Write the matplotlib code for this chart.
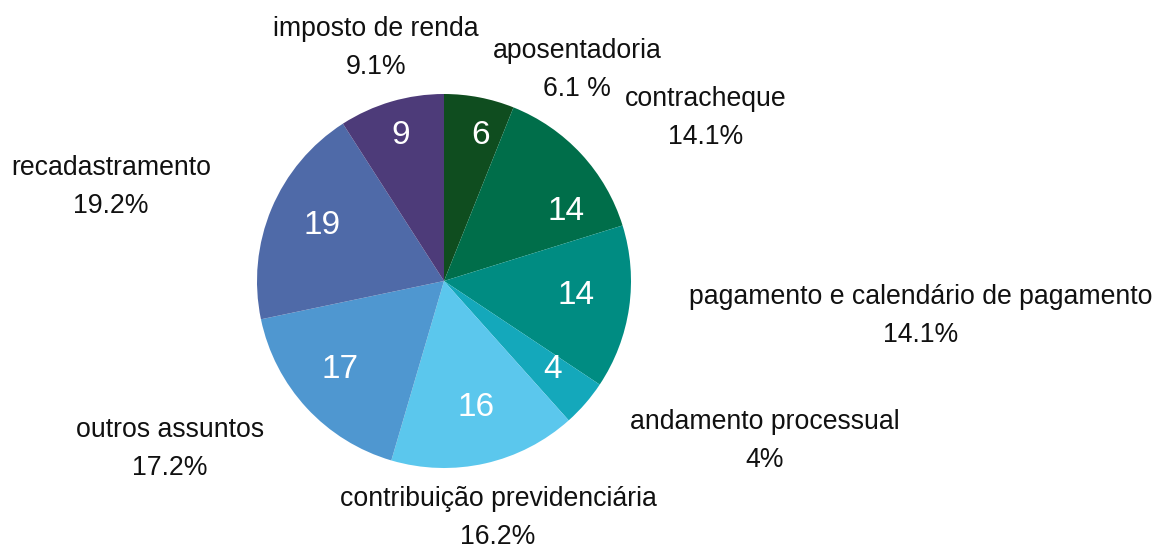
import matplotlib
matplotlib.use("Agg")
import matplotlib.pyplot as plt

# ---- data ----
categories = ["aposentadoria", "contracheque", "pagamento e calendário de pagamento",
              "andamento processual", "contribuição previdenciária", "outros assuntos",
              "recadastramento", "imposto de renda"]
values = [6, 14, 14, 4, 16, 17, 19, 9]
percent_labels = ["6.1 %", "14.1%", "14.1%", "4%", "16.2%", "17.2%", "19.2%", "9.1%"]

# ---- styles / layout ----
colors = ["#0f4d1f", "#006e4a", "#008c82", "#14a8bb", "#5bc7ed", "#4f97d0", "#4f6aa8", "#4d3b79"]
W, H = 1157, 545
center = (444, H - 281)
radius = 187
# label centres in pixel coords (x, y from top)
outer_pos = [(577, 70), (706, 118), (921, 316), (765, 441), (498, 518), (170, 449), (111, 187), (376, 48)]
inner_pos = [(481, 135), (566, 212), (576, 295), (553, 370), (476, 408), (340, 370), (322, 226), (401, 135)]

plt.rcParams['font.family'] = ['Liberation Sans', 'DejaVu Sans']

fig = plt.figure(figsize=(W / 100, H / 100), dpi=100)
ax = fig.add_axes([0, 0, 1, 1])

ax.pie(values, colors=colors, startangle=90, counterclock=False,
       center=center, radius=radius, wedgeprops=dict(linewidth=0),
       frame=True)
ax.set_xlim(0, W)
ax.set_ylim(0, H)
ax.set_aspect('equal')
ax.axis('off')

for cat, pl, (x, y) in zip(categories, percent_labels, outer_pos):
    ax.text(x, H - y, f"{cat}\n{pl}", ha='center', va='center', fontsize=19.2,
            color='#111111', linespacing=1.58)

for v, (x, y) in zip(values, inner_pos):
    ax.text(x, H - y, str(v), ha='center', va='center', fontsize=24, color='white')

fig.savefig("out.png", dpi=100)
